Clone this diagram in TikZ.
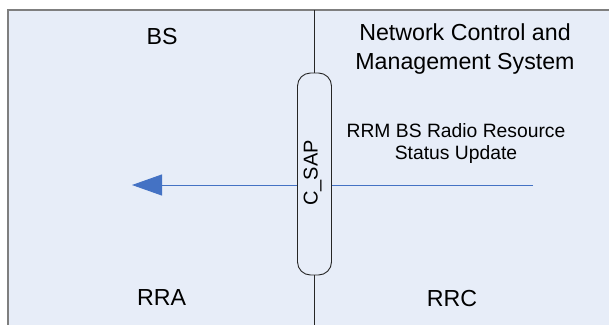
\documentclass[tikz,border=0pt]{standalone}
\usepackage{fontspec}
\setmainfont{Liberation Sans}
\usetikzlibrary{arrows.meta}
\definecolor{panelfill}{HTML}{E7EDF8}
\definecolor{panelborder}{HTML}{7F7F7F}
\definecolor{msgblue}{HTML}{4472C4}
\tikzset{
  biglabel/.style={font=\fontsize{23.2}{29}\selectfont, align=center, inner sep=0pt},
  msglabel/.style={font=\fontsize{19.3}{22}\selectfont, align=center, inner sep=0pt},
  sapbox/.style={draw=black!85, line width=0.9pt, fill=panelfill, rounded corners=13pt,
    minimum width=34pt, minimum height=202pt, inner sep=0pt},
  divider/.style={draw=black!85, line width=1.2pt},
  msgline/.style={draw=msgblue, line width=1pt, -{Triangle[length=30pt,width=21pt]}}
}
\begin{document}
\begin{tikzpicture}[x=1pt,y=-1pt]
\useasboundingbox (0,0) rectangle (609,324);
\fill[white] (0,0) rectangle (609,324);
\draw[panelborder, line width=2pt, fill=panelfill] (8,10) rectangle (640,360);
\coordinate (topend) at (314.5,10);
\coordinate (botend) at (314.5,330);
\coordinate (msgstart) at (533,185);
\coordinate (msgend) at (132,185);
\draw[msgline] (msgstart) -- (msgend);
\node[sapbox] (sap) at (314.5,174) {};
\node[rotate=90, font=\fontsize{20}{24}\selectfont, inner sep=0pt] (saplabel) at (312.5,173) {C\_SAP};
\draw[divider] (topend) -- (sap.north);
\draw[divider] (sap.south) -- (botend);
\node[biglabel] (bs) at (162,37) {BS};
\node[biglabel] (ncms) at (465,49) {Network Control and\\Management System};
\node[msglabel] (rrm) at (456,144) {RRM BS Radio Resource\\Status Update};
\node[biglabel] (rra) at (161.5,298) {RRA};
\node[biglabel] (rrc) at (452,299) {RRC};
\end{tikzpicture}
\end{document}
